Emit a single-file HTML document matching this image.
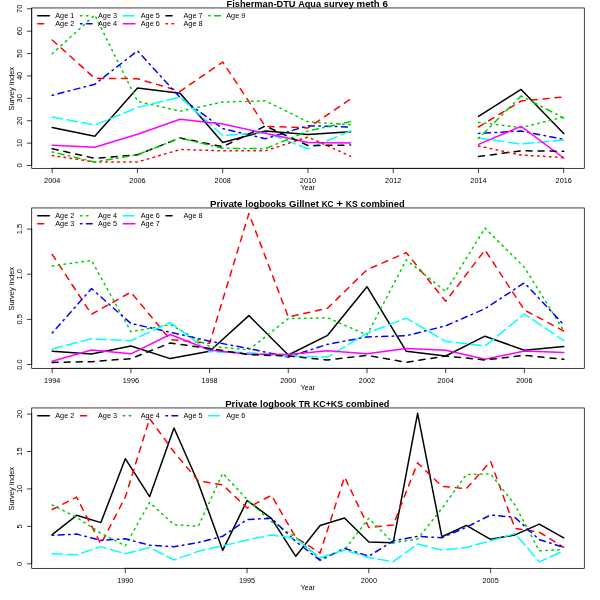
<!DOCTYPE html>
<html><head><meta charset="utf-8"><title>Survey indices</title>
<style>
html,body{margin:0;padding:0;background:#fff;}
body{width:600px;height:600px;overflow:hidden;font-family:"Liberation Sans", sans-serif;}
svg{display:block;will-change:transform;}
</style></head><body>
<svg width="600" height="600" viewBox="0 0 600 600">
<rect width="600" height="600" fill="#fff"/>
<g fill="none" stroke-width="1.50" stroke-linecap="round" stroke-linejoin="round">
<polyline points="52.2,127.5 94.8,136.3 137.5,88.0 180.1,93.3 222.7,142.5 265.3,131.0 308.0,134.5 350.6,131.8" stroke="#000000"/>
<polyline points="478.5,116.4 521.1,89.4 563.7,133.6" stroke="#000000"/>
<polyline points="52.2,40.0 94.8,78.3 137.5,78.7 180.1,91.3 222.7,62.0 265.3,126.3 308.0,127.9 350.6,99.1" stroke="#FF0000" stroke-dasharray="6 6"/>
<polyline points="478.5,127.0 521.1,101.0 563.7,97.0" stroke="#FF0000" stroke-dasharray="6 6"/>
<polyline points="52.2,53.7 94.8,15.0 137.5,101.3 180.1,111.2 222.7,102.1 265.3,100.8 308.0,121.8 350.6,124.7" stroke="#00CD00" stroke-dasharray="1.5 4.5"/>
<polyline points="478.5,122.4 521.1,127.6 563.7,117.0" stroke="#00CD00" stroke-dasharray="1.5 4.5"/>
<polyline points="52.2,95.3 94.8,84.2 137.5,50.8 180.1,97.5 222.7,128.6 265.3,138.7 308.0,125.7 350.6,127.0" stroke="#0000FF" stroke-dasharray="1.5 4.5 6 4.5"/>
<polyline points="478.5,133.4 521.1,131.0 563.7,139.4" stroke="#0000FF" stroke-dasharray="1.5 4.5 6 4.5"/>
<polyline points="52.2,117.0 94.8,125.0 137.5,107.5 180.1,97.0 222.7,135.5 265.3,132.5 308.0,148.8 350.6,130.9" stroke="#00FFFF" stroke-dasharray="10.5 4.5"/>
<polyline points="478.5,138.0 521.1,144.0 563.7,140.0" stroke="#00FFFF" stroke-dasharray="10.5 4.5"/>
<polyline points="52.2,145.3 94.8,147.2 137.5,134.2 180.1,119.2 222.7,124.1 265.3,133.3 308.0,142.4 350.6,143.0" stroke="#FF00FF"/>
<polyline points="478.5,144.4 521.1,126.4 563.7,158.0" stroke="#FF00FF"/>
<polyline points="52.2,148.7 94.8,158.3 137.5,154.7 180.1,138.0 222.7,146.7 265.3,126.0 308.0,145.5 350.6,145.1" stroke="#000000" stroke-dasharray="6 6"/>
<polyline points="478.5,156.6 521.1,150.8 563.7,151.2" stroke="#000000" stroke-dasharray="6 6"/>
<polyline points="52.2,155.5 94.8,162.0 137.5,162.0 180.1,149.5 222.7,150.8 265.3,150.8 308.0,137.0 350.6,156.3" stroke="#FF0000" stroke-dasharray="1.5 4.5"/>
<polyline points="478.5,146.0 521.1,155.0 563.7,157.6" stroke="#FF0000" stroke-dasharray="1.5 4.5"/>
<polyline points="52.2,152.0 94.8,162.0 137.5,154.7 180.1,138.0 222.7,148.3 265.3,148.7 308.0,131.0 350.6,121.6" stroke="#00CD00" stroke-dasharray="1.5 4.5 6 4.5"/>
<polyline points="478.5,138.4 521.1,96.0 563.7,118.0" stroke="#00CD00" stroke-dasharray="1.5 4.5 6 4.5"/>
</g>
<g fill="none" stroke="#000" stroke-width="0.75" stroke-linecap="round">
<rect x="31.70" y="7.95" width="552.60" height="160.40"/>
<line x1="52.20" y1="168.35" x2="563.70" y2="168.35"/>
<line x1="31.70" y1="165.50" x2="31.70" y2="8.77"/>
<line x1="52.20" y1="168.35" x2="52.20" y2="172.75"/>
<line x1="137.45" y1="168.35" x2="137.45" y2="172.75"/>
<line x1="222.70" y1="168.35" x2="222.70" y2="172.75"/>
<line x1="307.95" y1="168.35" x2="307.95" y2="172.75"/>
<line x1="393.20" y1="168.35" x2="393.20" y2="172.75"/>
<line x1="478.45" y1="168.35" x2="478.45" y2="172.75"/>
<line x1="563.70" y1="168.35" x2="563.70" y2="172.75"/>
<line x1="31.70" y1="165.50" x2="27.30" y2="165.50"/>
<line x1="31.70" y1="143.11" x2="27.30" y2="143.11"/>
<line x1="31.70" y1="120.72" x2="27.30" y2="120.72"/>
<line x1="31.70" y1="98.33" x2="27.30" y2="98.33"/>
<line x1="31.70" y1="75.94" x2="27.30" y2="75.94"/>
<line x1="31.70" y1="53.55" x2="27.30" y2="53.55"/>
<line x1="31.70" y1="31.16" x2="27.30" y2="31.16"/>
<line x1="31.70" y1="8.77" x2="27.30" y2="8.77"/>
</g>
<g fill="#000" font-family='"Liberation Sans", sans-serif'>
<text x="52.20" y="182.95" font-size="7.20" text-anchor="middle" textLength="16.2" lengthAdjust="spacingAndGlyphs">2004</text>
<text x="137.45" y="182.95" font-size="7.20" text-anchor="middle" textLength="16.2" lengthAdjust="spacingAndGlyphs">2006</text>
<text x="222.70" y="182.95" font-size="7.20" text-anchor="middle" textLength="16.2" lengthAdjust="spacingAndGlyphs">2008</text>
<text x="307.95" y="182.95" font-size="7.20" text-anchor="middle" textLength="16.2" lengthAdjust="spacingAndGlyphs">2010</text>
<text x="393.20" y="182.95" font-size="7.20" text-anchor="middle" textLength="16.2" lengthAdjust="spacingAndGlyphs">2012</text>
<text x="478.45" y="182.95" font-size="7.20" text-anchor="middle" textLength="16.2" lengthAdjust="spacingAndGlyphs">2014</text>
<text x="563.70" y="182.95" font-size="7.20" text-anchor="middle" textLength="16.2" lengthAdjust="spacingAndGlyphs">2016</text>
<text x="22.10" y="165.50" font-size="7.20" text-anchor="middle" transform="rotate(-90 22.10 165.50)" textLength="4.2" lengthAdjust="spacingAndGlyphs">0</text>
<text x="22.10" y="143.11" font-size="7.20" text-anchor="middle" transform="rotate(-90 22.10 143.11)" textLength="8.3" lengthAdjust="spacingAndGlyphs">10</text>
<text x="22.10" y="120.72" font-size="7.20" text-anchor="middle" transform="rotate(-90 22.10 120.72)" textLength="8.3" lengthAdjust="spacingAndGlyphs">20</text>
<text x="22.10" y="98.33" font-size="7.20" text-anchor="middle" transform="rotate(-90 22.10 98.33)" textLength="8.3" lengthAdjust="spacingAndGlyphs">30</text>
<text x="22.10" y="75.94" font-size="7.20" text-anchor="middle" transform="rotate(-90 22.10 75.94)" textLength="8.3" lengthAdjust="spacingAndGlyphs">40</text>
<text x="22.10" y="53.55" font-size="7.20" text-anchor="middle" transform="rotate(-90 22.10 53.55)" textLength="8.3" lengthAdjust="spacingAndGlyphs">50</text>
<text x="22.10" y="31.16" font-size="7.20" text-anchor="middle" transform="rotate(-90 22.10 31.16)" textLength="8.3" lengthAdjust="spacingAndGlyphs">60</text>
<text x="22.10" y="8.77" font-size="7.20" text-anchor="middle" transform="rotate(-90 22.10 8.77)" textLength="8.3" lengthAdjust="spacingAndGlyphs">70</text>
<text x="307.80" y="189.85" font-size="7.20" text-anchor="middle" textLength="14.0" lengthAdjust="spacingAndGlyphs">Year</text>
<text x="14.40" y="88.75" font-size="7.20" text-anchor="middle" transform="rotate(-90 14.40 88.75)" textLength="43.5" lengthAdjust="spacingAndGlyphs">Survey Index</text>
<text x="226.60" y="6.95" font-size="9.80" text-anchor="start" font-weight="bold" textLength="68.9" lengthAdjust="spacingAndGlyphs">Fisherman-DTU</text>
<text x="298.22" y="6.95" font-size="9.80" text-anchor="start" font-weight="bold" textLength="22.8" lengthAdjust="spacingAndGlyphs">Aqua</text>
<text x="323.82" y="6.95" font-size="9.80" text-anchor="start" font-weight="bold" textLength="30.0" lengthAdjust="spacingAndGlyphs">survey</text>
<text x="356.61" y="6.95" font-size="9.80" text-anchor="start" font-weight="bold" textLength="23.1" lengthAdjust="spacingAndGlyphs">meth</text>
<text x="382.48" y="6.95" font-size="9.80" text-anchor="start" font-weight="bold" textLength="5.5" lengthAdjust="spacingAndGlyphs">6</text>
<line x1="37.75" y1="15.75" x2="49.35" y2="15.75" stroke="#000000" stroke-width="1.50" stroke-linecap="round"/>
<text x="55.25" y="18.15" font-size="7.20" text-anchor="start" textLength="19.0" lengthAdjust="spacingAndGlyphs">Age 1</text>
<line x1="37.75" y1="23.65" x2="49.35" y2="23.65" stroke="#FF0000" stroke-width="1.50" stroke-linecap="round" stroke-dasharray="6 6"/>
<text x="55.25" y="26.05" font-size="7.20" text-anchor="start" textLength="19.0" lengthAdjust="spacingAndGlyphs">Age 2</text>
<line x1="80.50" y1="15.75" x2="92.10" y2="15.75" stroke="#00CD00" stroke-width="1.50" stroke-linecap="round" stroke-dasharray="1.5 4.5"/>
<text x="98.00" y="18.15" font-size="7.20" text-anchor="start" textLength="19.0" lengthAdjust="spacingAndGlyphs">Age 3</text>
<line x1="80.50" y1="23.65" x2="92.10" y2="23.65" stroke="#0000FF" stroke-width="1.50" stroke-linecap="round" stroke-dasharray="1.5 4.5 6 4.5"/>
<text x="98.00" y="26.05" font-size="7.20" text-anchor="start" textLength="19.0" lengthAdjust="spacingAndGlyphs">Age 4</text>
<line x1="123.25" y1="15.75" x2="134.85" y2="15.75" stroke="#00FFFF" stroke-width="1.50" stroke-linecap="round" stroke-dasharray="10.5 4.5"/>
<text x="140.75" y="18.15" font-size="7.20" text-anchor="start" textLength="19.0" lengthAdjust="spacingAndGlyphs">Age 5</text>
<line x1="123.25" y1="23.65" x2="134.85" y2="23.65" stroke="#FF00FF" stroke-width="1.50" stroke-linecap="round"/>
<text x="140.75" y="26.05" font-size="7.20" text-anchor="start" textLength="19.0" lengthAdjust="spacingAndGlyphs">Age 6</text>
<line x1="166.00" y1="15.75" x2="177.60" y2="15.75" stroke="#000000" stroke-width="1.50" stroke-linecap="round" stroke-dasharray="6 6"/>
<text x="183.50" y="18.15" font-size="7.20" text-anchor="start" textLength="19.0" lengthAdjust="spacingAndGlyphs">Age 7</text>
<line x1="166.00" y1="23.65" x2="177.60" y2="23.65" stroke="#FF0000" stroke-width="1.50" stroke-linecap="round" stroke-dasharray="1.5 4.5"/>
<text x="183.50" y="26.05" font-size="7.20" text-anchor="start" textLength="19.0" lengthAdjust="spacingAndGlyphs">Age 8</text>
<line x1="208.75" y1="15.75" x2="220.35" y2="15.75" stroke="#00CD00" stroke-width="1.50" stroke-linecap="round" stroke-dasharray="1.5 4.5 6 4.5"/>
<text x="226.25" y="18.15" font-size="7.20" text-anchor="start" textLength="19.0" lengthAdjust="spacingAndGlyphs">Age 9</text>
</g>
<g fill="none" stroke-width="1.50" stroke-linecap="round" stroke-linejoin="round">
<polyline points="52.2,351.2 91.5,354.0 130.9,346.0 170.2,358.6 209.6,351.3 248.9,315.6 288.3,355.0 327.6,335.3 367.0,286.7 406.3,351.3 445.7,356.0 485.0,336.2 524.4,350.3 563.7,346.6" stroke="#000000"/>
<polyline points="52.2,254.4 91.5,314.2 130.9,292.2 170.2,339.5 209.6,343.3 248.9,213.5 288.3,317.0 327.6,308.2 367.0,269.7 406.3,252.6 445.7,301.3 485.0,250.0 524.4,310.0 563.7,331.0" stroke="#FF0000" stroke-dasharray="6 6"/>
<polyline points="52.2,266.0 91.5,260.4 130.9,331.7 170.2,324.6 209.6,346.3 248.9,349.8 288.3,318.6 327.6,317.8 367.0,335.0 406.3,259.9 445.7,291.5 485.0,228.1 524.4,267.3 563.7,330.5" stroke="#00CD00" stroke-dasharray="1.5 4.5"/>
<polyline points="52.2,333.0 91.5,288.6 130.9,323.5 170.2,332.2 209.6,341.2 248.9,348.5 288.3,357.0 327.6,344.3 367.0,336.9 406.3,335.7 445.7,325.8 485.0,308.7 524.4,282.8 563.7,324.7" stroke="#0000FF" stroke-dasharray="1.5 4.5 6 4.5"/>
<polyline points="52.2,349.0 91.5,338.7 130.9,340.8 170.2,322.5 209.6,351.7 248.9,352.7 288.3,356.0 327.6,357.1 367.0,333.1 406.3,318.2 445.7,341.4 485.0,346.0 524.4,314.0 563.7,340.6" stroke="#00FFFF" stroke-dasharray="10.5 4.5"/>
<polyline points="52.2,361.2 91.5,350.0 130.9,353.8 170.2,334.5 209.6,350.0 248.9,354.3 288.3,354.6 327.6,350.7 367.0,353.7 406.3,348.5 445.7,350.2 485.0,359.3 524.4,351.0 563.7,352.6" stroke="#FF00FF"/>
<polyline points="52.2,362.4 91.5,361.7 130.9,358.6 170.2,343.0 209.6,348.5 248.9,354.7 288.3,356.0 327.6,360.0 367.0,355.3 406.3,362.3 445.7,356.0 485.0,360.0 524.4,355.3 563.7,359.3" stroke="#000000" stroke-dasharray="6 6"/>
</g>
<g fill="none" stroke="#000" stroke-width="0.75" stroke-linecap="round">
<rect x="31.70" y="207.95" width="552.60" height="160.40"/>
<line x1="52.20" y1="368.35" x2="524.35" y2="368.35"/>
<line x1="31.70" y1="364.50" x2="31.70" y2="229.12"/>
<line x1="52.20" y1="368.35" x2="52.20" y2="372.75"/>
<line x1="130.89" y1="368.35" x2="130.89" y2="372.75"/>
<line x1="209.58" y1="368.35" x2="209.58" y2="372.75"/>
<line x1="288.28" y1="368.35" x2="288.28" y2="372.75"/>
<line x1="366.97" y1="368.35" x2="366.97" y2="372.75"/>
<line x1="445.66" y1="368.35" x2="445.66" y2="372.75"/>
<line x1="524.35" y1="368.35" x2="524.35" y2="372.75"/>
<line x1="31.70" y1="364.50" x2="27.30" y2="364.50"/>
<line x1="31.70" y1="319.38" x2="27.30" y2="319.38"/>
<line x1="31.70" y1="274.25" x2="27.30" y2="274.25"/>
<line x1="31.70" y1="229.12" x2="27.30" y2="229.12"/>
</g>
<g fill="#000" font-family='"Liberation Sans", sans-serif'>
<text x="52.20" y="382.95" font-size="7.20" text-anchor="middle" textLength="16.2" lengthAdjust="spacingAndGlyphs">1994</text>
<text x="130.89" y="382.95" font-size="7.20" text-anchor="middle" textLength="16.2" lengthAdjust="spacingAndGlyphs">1996</text>
<text x="209.58" y="382.95" font-size="7.20" text-anchor="middle" textLength="16.2" lengthAdjust="spacingAndGlyphs">1998</text>
<text x="288.28" y="382.95" font-size="7.20" text-anchor="middle" textLength="16.2" lengthAdjust="spacingAndGlyphs">2000</text>
<text x="366.97" y="382.95" font-size="7.20" text-anchor="middle" textLength="16.2" lengthAdjust="spacingAndGlyphs">2002</text>
<text x="445.66" y="382.95" font-size="7.20" text-anchor="middle" textLength="16.2" lengthAdjust="spacingAndGlyphs">2004</text>
<text x="524.35" y="382.95" font-size="7.20" text-anchor="middle" textLength="16.2" lengthAdjust="spacingAndGlyphs">2006</text>
<text x="22.10" y="364.50" font-size="7.20" text-anchor="middle" transform="rotate(-90 22.10 364.50)" textLength="10.4" lengthAdjust="spacingAndGlyphs">0.0</text>
<text x="22.10" y="319.38" font-size="7.20" text-anchor="middle" transform="rotate(-90 22.10 319.38)" textLength="10.4" lengthAdjust="spacingAndGlyphs">0.5</text>
<text x="22.10" y="274.25" font-size="7.20" text-anchor="middle" transform="rotate(-90 22.10 274.25)" textLength="10.4" lengthAdjust="spacingAndGlyphs">1.0</text>
<text x="22.10" y="229.12" font-size="7.20" text-anchor="middle" transform="rotate(-90 22.10 229.12)" textLength="10.4" lengthAdjust="spacingAndGlyphs">1.5</text>
<text x="307.80" y="389.85" font-size="7.20" text-anchor="middle" textLength="14.0" lengthAdjust="spacingAndGlyphs">Year</text>
<text x="14.40" y="288.75" font-size="7.20" text-anchor="middle" transform="rotate(-90 14.40 288.75)" textLength="43.5" lengthAdjust="spacingAndGlyphs">Survey Index</text>
<text x="210.00" y="206.95" font-size="9.80" text-anchor="start" font-weight="bold" textLength="32.5" lengthAdjust="spacingAndGlyphs">Private</text>
<text x="245.33" y="206.95" font-size="9.80" text-anchor="start" font-weight="bold" textLength="40.9" lengthAdjust="spacingAndGlyphs">logbooks</text>
<text x="289.04" y="206.95" font-size="9.80" text-anchor="start" font-weight="bold" textLength="29.8" lengthAdjust="spacingAndGlyphs">Gillnet</text>
<text x="321.68" y="206.95" font-size="9.80" text-anchor="start" font-weight="bold" textLength="11.8" lengthAdjust="spacingAndGlyphs">KC</text>
<text x="336.23" y="206.95" font-size="9.80" text-anchor="start" font-weight="bold" textLength="6.7" lengthAdjust="spacingAndGlyphs">+</text>
<text x="345.75" y="206.95" font-size="9.80" text-anchor="start" font-weight="bold" textLength="12.0" lengthAdjust="spacingAndGlyphs">KS</text>
<text x="360.55" y="206.95" font-size="9.80" text-anchor="start" font-weight="bold" textLength="44.1" lengthAdjust="spacingAndGlyphs">combined</text>
<line x1="37.75" y1="215.75" x2="49.35" y2="215.75" stroke="#000000" stroke-width="1.50" stroke-linecap="round"/>
<text x="55.25" y="218.15" font-size="7.20" text-anchor="start" textLength="19.0" lengthAdjust="spacingAndGlyphs">Age 2</text>
<line x1="37.75" y1="223.65" x2="49.35" y2="223.65" stroke="#FF0000" stroke-width="1.50" stroke-linecap="round" stroke-dasharray="6 6"/>
<text x="55.25" y="226.05" font-size="7.20" text-anchor="start" textLength="19.0" lengthAdjust="spacingAndGlyphs">Age 3</text>
<line x1="80.50" y1="215.75" x2="92.10" y2="215.75" stroke="#00CD00" stroke-width="1.50" stroke-linecap="round" stroke-dasharray="1.5 4.5"/>
<text x="98.00" y="218.15" font-size="7.20" text-anchor="start" textLength="19.0" lengthAdjust="spacingAndGlyphs">Age 4</text>
<line x1="80.50" y1="223.65" x2="92.10" y2="223.65" stroke="#0000FF" stroke-width="1.50" stroke-linecap="round" stroke-dasharray="1.5 4.5 6 4.5"/>
<text x="98.00" y="226.05" font-size="7.20" text-anchor="start" textLength="19.0" lengthAdjust="spacingAndGlyphs">Age 5</text>
<line x1="123.25" y1="215.75" x2="134.85" y2="215.75" stroke="#00FFFF" stroke-width="1.50" stroke-linecap="round" stroke-dasharray="10.5 4.5"/>
<text x="140.75" y="218.15" font-size="7.20" text-anchor="start" textLength="19.0" lengthAdjust="spacingAndGlyphs">Age 6</text>
<line x1="123.25" y1="223.65" x2="134.85" y2="223.65" stroke="#FF00FF" stroke-width="1.50" stroke-linecap="round"/>
<text x="140.75" y="226.05" font-size="7.20" text-anchor="start" textLength="19.0" lengthAdjust="spacingAndGlyphs">Age 7</text>
<line x1="166.00" y1="215.75" x2="177.60" y2="215.75" stroke="#000000" stroke-width="1.50" stroke-linecap="round" stroke-dasharray="6 6"/>
<text x="183.50" y="218.15" font-size="7.20" text-anchor="start" textLength="19.0" lengthAdjust="spacingAndGlyphs">Age 8</text>
</g>
<g fill="none" stroke-width="1.50" stroke-linecap="round" stroke-linejoin="round">
<polyline points="52.2,534.7 76.6,515.3 100.9,522.6 125.3,458.7 149.6,496.7 174.0,428.0 198.3,483.0 222.7,550.3 247.1,500.5 271.4,518.3 295.8,556.3 320.1,525.5 344.5,518.0 368.8,542.0 393.2,542.8 417.6,413.3 441.9,536.8 466.3,525.4 490.6,539.3 515.0,534.9 539.3,524.1 563.7,537.9" stroke="#000000"/>
<polyline points="52.2,509.5 76.6,497.2 100.9,544.1 125.3,497.1 149.6,418.6 174.0,452.0 198.3,480.8 222.7,485.0 247.1,508.0 271.4,495.3 295.8,537.5 320.1,553.0 344.5,477.0 368.8,527.5 393.2,525.0 417.6,462.9 441.9,486.3 466.3,488.7 490.6,461.3 515.0,528.4 539.3,532.1 563.7,547.3" stroke="#FF0000" stroke-dasharray="6 6"/>
<polyline points="52.2,505.0 76.6,517.3 100.9,533.3 125.3,545.8 149.6,502.4 174.0,524.7 198.3,526.3 222.7,473.3 247.1,499.5 271.4,521.7 295.8,537.5 320.1,559.2 344.5,549.7 368.8,518.3 393.2,542.8 417.6,539.0 441.9,508.5 466.3,474.5 490.6,473.9 515.0,505.0 539.3,550.9 563.7,549.4" stroke="#00CD00" stroke-dasharray="1.5 4.5"/>
<polyline points="52.2,535.2 76.6,534.1 100.9,540.3 125.3,538.8 149.6,545.2 174.0,546.7 198.3,542.5 222.7,536.3 247.1,519.5 271.4,518.3 295.8,541.5 320.1,560.3 344.5,548.3 368.8,556.3 393.2,540.8 417.6,536.4 441.9,537.7 466.3,527.3 490.6,515.0 515.0,517.4 539.3,539.7 563.7,547.3" stroke="#0000FF" stroke-dasharray="1.5 4.5 6 4.5"/>
<polyline points="52.2,553.8 76.6,554.8 100.9,546.6 125.3,553.8 149.6,547.5 174.0,560.0 198.3,551.3 222.7,545.8 247.1,540.0 271.4,535.0 295.8,538.3 320.1,557.7 344.5,550.0 368.8,557.5 393.2,561.7 417.6,544.1 441.9,550.1 466.3,547.5 490.6,540.8 515.0,533.6 539.3,561.8 563.7,550.9" stroke="#00FFFF" stroke-dasharray="10.5 4.5"/>
</g>
<g fill="none" stroke="#000" stroke-width="0.75" stroke-linecap="round">
<rect x="31.70" y="407.95" width="552.60" height="160.40"/>
<line x1="125.27" y1="568.35" x2="490.63" y2="568.35"/>
<line x1="31.70" y1="563.80" x2="31.70" y2="414.06"/>
<line x1="125.27" y1="568.35" x2="125.27" y2="572.75"/>
<line x1="247.06" y1="568.35" x2="247.06" y2="572.75"/>
<line x1="368.84" y1="568.35" x2="368.84" y2="572.75"/>
<line x1="490.63" y1="568.35" x2="490.63" y2="572.75"/>
<line x1="31.70" y1="563.80" x2="27.30" y2="563.80"/>
<line x1="31.70" y1="526.37" x2="27.30" y2="526.37"/>
<line x1="31.70" y1="488.93" x2="27.30" y2="488.93"/>
<line x1="31.70" y1="451.49" x2="27.30" y2="451.49"/>
<line x1="31.70" y1="414.06" x2="27.30" y2="414.06"/>
</g>
<g fill="#000" font-family='"Liberation Sans", sans-serif'>
<text x="125.27" y="582.95" font-size="7.20" text-anchor="middle" textLength="16.2" lengthAdjust="spacingAndGlyphs">1990</text>
<text x="247.06" y="582.95" font-size="7.20" text-anchor="middle" textLength="16.2" lengthAdjust="spacingAndGlyphs">1995</text>
<text x="368.84" y="582.95" font-size="7.20" text-anchor="middle" textLength="16.2" lengthAdjust="spacingAndGlyphs">2000</text>
<text x="490.63" y="582.95" font-size="7.20" text-anchor="middle" textLength="16.2" lengthAdjust="spacingAndGlyphs">2005</text>
<text x="22.10" y="563.80" font-size="7.20" text-anchor="middle" transform="rotate(-90 22.10 563.80)" textLength="4.2" lengthAdjust="spacingAndGlyphs">0</text>
<text x="22.10" y="526.37" font-size="7.20" text-anchor="middle" transform="rotate(-90 22.10 526.37)" textLength="4.2" lengthAdjust="spacingAndGlyphs">5</text>
<text x="22.10" y="488.93" font-size="7.20" text-anchor="middle" transform="rotate(-90 22.10 488.93)" textLength="8.3" lengthAdjust="spacingAndGlyphs">10</text>
<text x="22.10" y="451.49" font-size="7.20" text-anchor="middle" transform="rotate(-90 22.10 451.49)" textLength="8.3" lengthAdjust="spacingAndGlyphs">15</text>
<text x="22.10" y="414.06" font-size="7.20" text-anchor="middle" transform="rotate(-90 22.10 414.06)" textLength="8.3" lengthAdjust="spacingAndGlyphs">20</text>
<text x="307.80" y="589.85" font-size="7.20" text-anchor="middle" textLength="14.0" lengthAdjust="spacingAndGlyphs">Year</text>
<text x="14.40" y="488.75" font-size="7.20" text-anchor="middle" transform="rotate(-90 14.40 488.75)" textLength="43.5" lengthAdjust="spacingAndGlyphs">Survey Index</text>
<text x="225.15" y="406.95" font-size="9.80" text-anchor="start" font-weight="bold" textLength="32.2" lengthAdjust="spacingAndGlyphs">Private</text>
<text x="260.11" y="406.95" font-size="9.80" text-anchor="start" font-weight="bold" textLength="35.8" lengthAdjust="spacingAndGlyphs">logbook</text>
<text x="298.63" y="406.95" font-size="9.80" text-anchor="start" font-weight="bold" textLength="11.5" lengthAdjust="spacingAndGlyphs">TR</text>
<text x="312.93" y="406.95" font-size="9.80" text-anchor="start" font-weight="bold" textLength="30.2" lengthAdjust="spacingAndGlyphs">KC+KS</text>
<text x="345.86" y="406.95" font-size="9.80" text-anchor="start" font-weight="bold" textLength="43.6" lengthAdjust="spacingAndGlyphs">combined</text>
<line x1="37.75" y1="415.75" x2="49.35" y2="415.75" stroke="#000000" stroke-width="1.50" stroke-linecap="round"/>
<text x="55.25" y="418.15" font-size="7.20" text-anchor="start" textLength="19.0" lengthAdjust="spacingAndGlyphs">Age 2</text>
<line x1="80.50" y1="415.75" x2="92.10" y2="415.75" stroke="#FF0000" stroke-width="1.50" stroke-linecap="round" stroke-dasharray="6 6"/>
<text x="98.00" y="418.15" font-size="7.20" text-anchor="start" textLength="19.0" lengthAdjust="spacingAndGlyphs">Age 3</text>
<line x1="123.25" y1="415.75" x2="134.85" y2="415.75" stroke="#00CD00" stroke-width="1.50" stroke-linecap="round" stroke-dasharray="1.5 4.5"/>
<text x="140.75" y="418.15" font-size="7.20" text-anchor="start" textLength="19.0" lengthAdjust="spacingAndGlyphs">Age 4</text>
<line x1="166.00" y1="415.75" x2="177.60" y2="415.75" stroke="#0000FF" stroke-width="1.50" stroke-linecap="round" stroke-dasharray="1.5 4.5 6 4.5"/>
<text x="183.50" y="418.15" font-size="7.20" text-anchor="start" textLength="19.0" lengthAdjust="spacingAndGlyphs">Age 5</text>
<line x1="208.75" y1="415.75" x2="220.35" y2="415.75" stroke="#00FFFF" stroke-width="1.50" stroke-linecap="round" stroke-dasharray="10.5 4.5"/>
<text x="226.25" y="418.15" font-size="7.20" text-anchor="start" textLength="19.0" lengthAdjust="spacingAndGlyphs">Age 6</text>
</g>
</svg>
</body></html>
